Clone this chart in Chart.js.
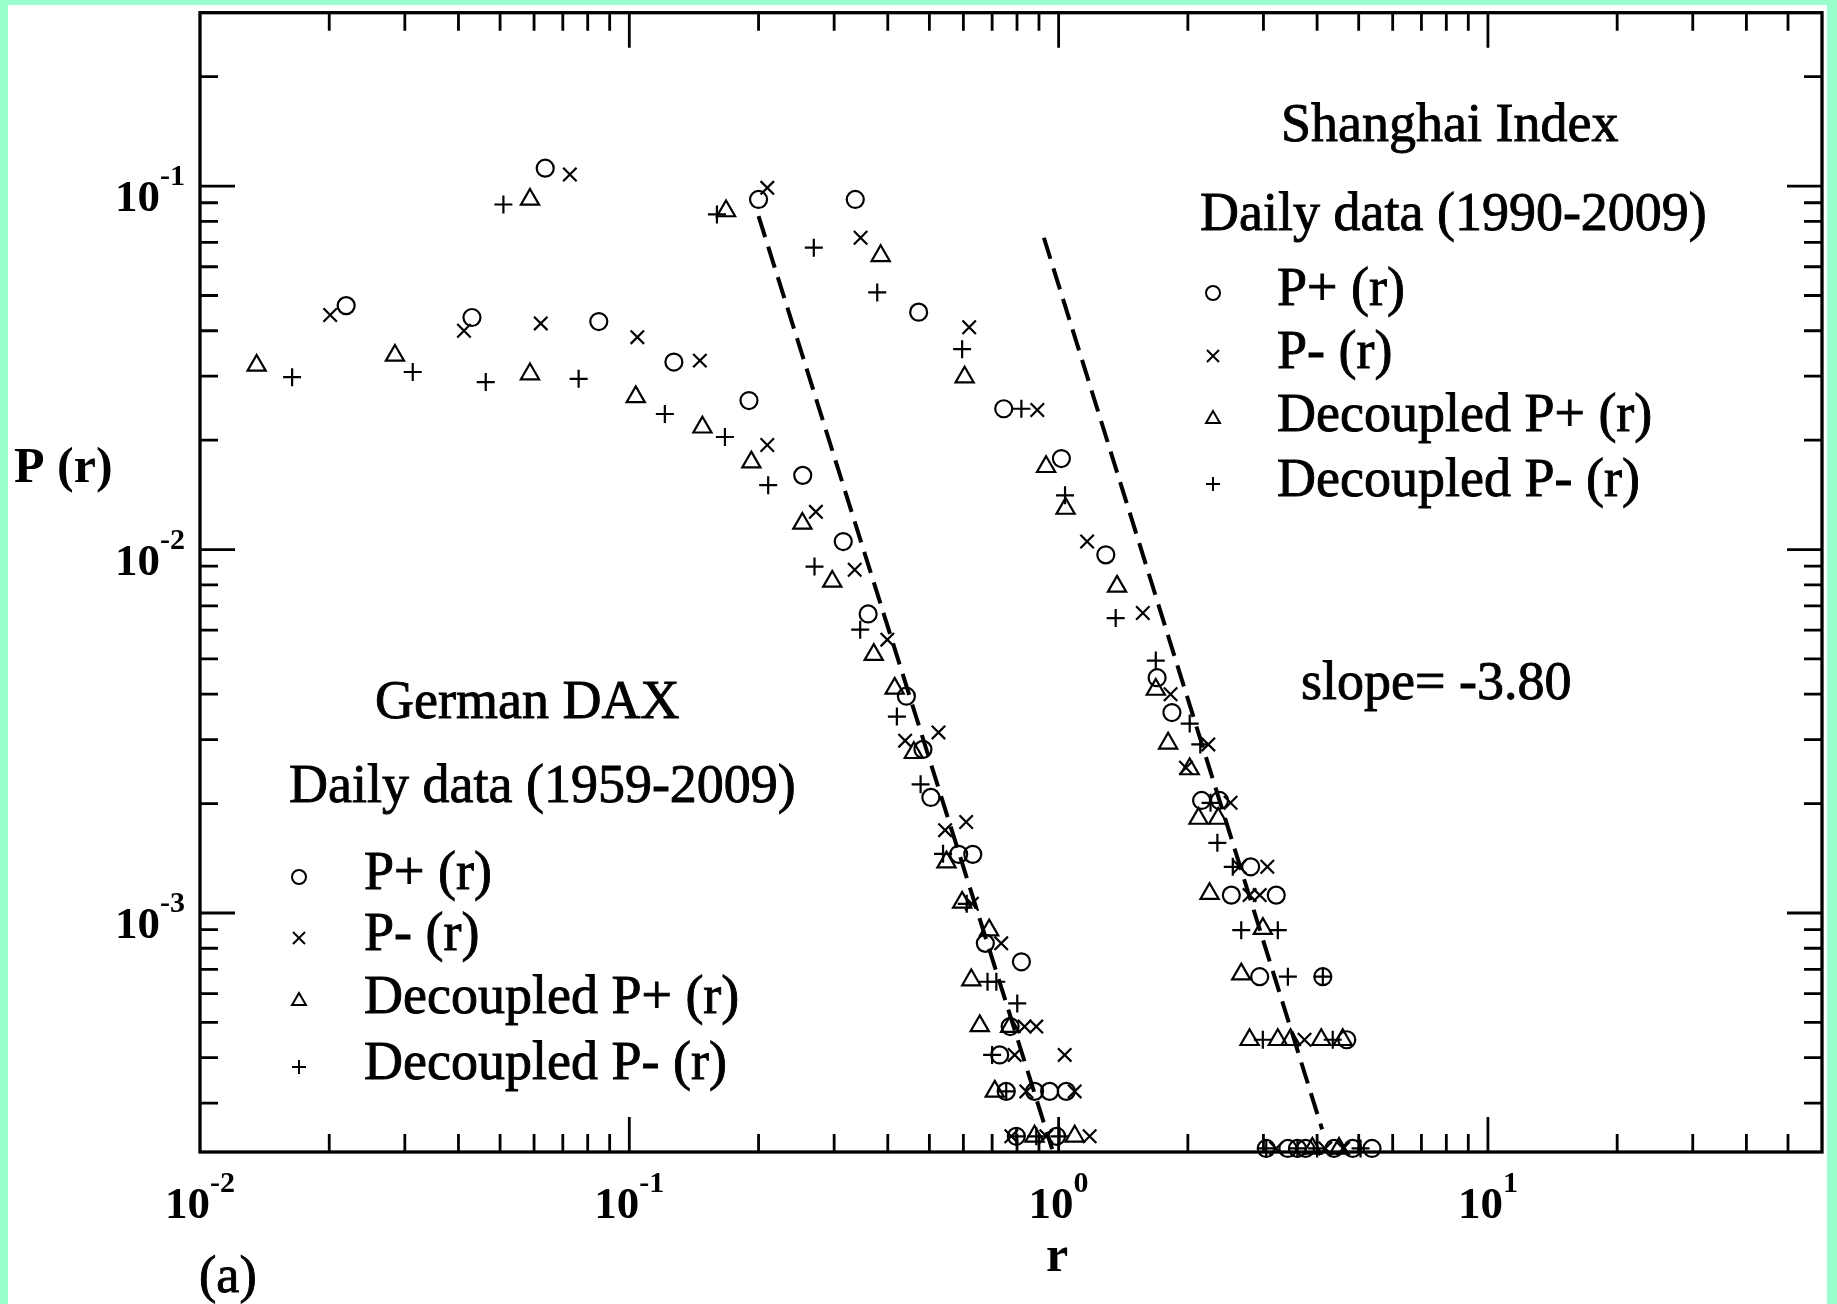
<!DOCTYPE html>
<html>
<head>
<meta charset="utf-8">
<script src="https://cdn.jsdelivr.net/npm/chart.js@4.4.1/dist/chart.umd.min.js"></script>
<style>
  html, body { margin: 0; padding: 0; background: #99ffcc; }
  canvas { display: block; }
</style>
</head>
<body>
<canvas id="grafico" width="1837" height="1304"></canvas>
<script>
// German DAX, daily data 1959-2009  [r, P(r)]
const daxPlus = [
  [0.0219, 0.0469], [0.043, 0.0435], [0.0849, 0.0424], [0.127, 0.0328], [0.190, 0.0257],
  [0.2535, 0.0160], [0.315, 0.01052], [0.360, 0.00665], [0.442, 0.00395], [0.483, 0.00282],
  [0.504, 0.00208], [0.585, 0.00145], [0.631, 0.00145], [0.675, 0.000825], [0.819, 0.000734],
  [0.771, 0.000487], [0.729, 0.000407], [0.755, 0.000323], [0.879, 0.000323], [0.953, 0.000323],
  [1.042, 0.000323], [0.797, 0.000243], [0.989, 0.000243]
];
const daxMinus = [
  [0.0201, 0.0442], [0.0412, 0.0400], [0.0622, 0.0419], [0.1044, 0.0384], [0.146, 0.0331],
  [0.2096, 0.0194], [0.272, 0.0127], [0.335, 0.0088], [0.399, 0.00565], [0.439, 0.00298],
  [0.525, 0.00314], [0.544, 0.00169], [0.609, 0.00178], [0.628, 0.00106], [0.735, 0.000825],
  [0.833, 0.000487], [0.887, 0.000487], [0.790, 0.000407], [1.033, 0.000407], [0.841, 0.000323],
  [1.09, 0.000323], [0.776, 0.000243], [0.936, 0.000243], [1.181, 0.000243]
];
const daxDecPlus = [
  [0.01355, 0.0321], [0.02845, 0.0342], [0.0587, 0.0304], [0.1035, 0.0263], [0.148, 0.0217],
  [0.1924, 0.0174], [0.253, 0.0118], [0.297, 0.00817], [0.371, 0.00514], [0.415, 0.00415],
  [0.460, 0.00276], [0.548, 0.00138], [0.596, 0.00107], [0.689, 0.000897], [0.626, 0.000654],
  [0.655, 0.000489], [0.771, 0.000487], [0.710, 0.000323], [0.879, 0.000243], [1.09, 0.000243]
];
const daxDecMinus = [
  [0.01639, 0.0298], [0.0313, 0.0308], [0.0463, 0.0289], [0.0762, 0.0295], [0.121, 0.0236],
  [0.167, 0.0204], [0.2106, 0.01504], [0.270, 0.00898], [0.345, 0.00602], [0.420, 0.00347],
  [0.477, 0.00226], [0.538, 0.001455], [0.611, 0.00106], [0.683, 0.000647], [0.716, 0.000647],
  [0.801, 0.000564], [0.700, 0.000407], [0.755, 0.000323], [0.797, 0.000243], [0.887, 0.000243],
  [1.005, 0.000243]
];

// Shanghai Index, daily data 1990-2009
const shPlus = [
  [0.0637, 0.112], [0.200, 0.0919], [0.336, 0.0919], [0.472, 0.0450], [0.745, 0.0244],
  [1.015, 0.0178], [1.288, 0.00967], [1.696, 0.00444], [1.836, 0.00356], [2.153, 0.00204],
  [2.370, 0.00204], [2.801, 0.00134], [2.525, 0.00112], [3.213, 0.00112], [2.94, 0.000668],
  [4.125, 0.000668], [4.69, 0.000448], [3.045, 0.000225], [3.42, 0.000225], [3.60, 0.000225],
  [3.76, 0.000225], [4.38, 0.000225], [4.84, 0.000225], [5.37, 0.000225]
];
const shMinus = [
  [0.0727, 0.1076], [0.2096, 0.0989], [0.3457, 0.0721], [0.619, 0.0409], [0.892, 0.0242],
  [1.165, 0.01052], [1.571, 0.00669], [1.823, 0.00400], [1.98, 0.00251], [2.232, 0.00291],
  [2.515, 0.00201], [2.639, 0.00134], [3.063, 0.00134], [2.785, 0.00112], [2.94, 0.00112],
  [3.739, 0.000448], [3.21, 0.000225], [4.18, 0.000225], [4.60, 0.000225]
];
const shDecPlus = [
  [0.0587, 0.0919], [0.168, 0.0854], [0.385, 0.0643], [0.604, 0.0298], [0.935, 0.0169],
  [1.038, 0.01297], [1.368, 0.00792], [1.684, 0.00412], [1.799, 0.00293], [2.02, 0.00249],
  [2.118, 0.00182], [2.353, 0.00182], [2.247, 0.00113], [2.99, 0.000906], [2.663, 0.000679],
  [2.785, 0.000448], [3.24, 0.000448], [3.47, 0.000448], [4.09, 0.000448], [4.59, 0.000448],
  [3.90, 0.000225], [4.50, 0.000225]
];
const shDecMinus = [
  [0.0509, 0.0890], [0.160, 0.0836], [0.269, 0.0677], [0.378, 0.0510], [0.596, 0.0356],
  [0.819, 0.0244], [1.035, 0.0141], [1.358, 0.00648], [1.684, 0.00495], [2.02, 0.00332],
  [2.138, 0.00291], [2.259, 0.00201], [2.343, 0.00156], [2.545, 0.00134], [2.663, 0.000897],
  [3.24, 0.000897], [3.42, 0.000668], [4.125, 0.000668], [2.99, 0.000448], [4.35, 0.000448],
  [3.045, 0.000225], [3.60, 0.000225], [4.00, 0.000225], [5.05, 0.000225]
];

// power law fits, slope -3.80
const fitDax = [[0.200, 0.0827], [0.966, 0.000224]];
const fitSh = [[0.924, 0.0721], [4.11, 0.000254]];

const xMin = 0.01, xMax = 60;
const yMin = 2.2e-4, yMax = 0.3;
const xDecadas = [-2, -1, 0, 1];
const yDecadas = [-1, -2, -3];

const legendaNomes = ['P+ (r)', 'P- (r)', 'Decoupled P+ (r)', 'Decoupled P- (r)'];
const simbolos = ['circle', 'crossRot', 'triangle', 'cross'];
const raios = { circle: 8.5, crossRot: 9.5, triangle: 10.5, cross: 9 };
const raiosLegenda = { circle: 7, crossRot: 8.5, triangle: 8, cross: 7 };

const serif = '"Liberation Serif", "Times New Roman", serif';

function pontos(lista) {
  return lista.map(p => ({ x: p[0], y: p[1] }));
}

function serie(label, lista, estilo) {
  return {
    label: label,
    data: pontos(lista),
    showLine: false,
    pointStyle: estilo,
    pointRadius: raios[estilo],
    pointBorderColor: '#000',
    pointBackgroundColor: 'rgba(0,0,0,0)',
    pointBorderWidth: 2.2,
    clip: false
  };
}

function reta(lista) {
  return {
    data: pontos(lista),
    showLine: true,
    borderColor: '#000',
    borderWidth: 4,
    borderDash: [22, 10],
    pointRadius: 0,
    fill: false,
    clip: false
  };
}

function marca(ctx, estilo, x, y) {
  ctx.save();
  ctx.strokeStyle = '#000';
  ctx.fillStyle = 'rgba(0,0,0,0)';
  ctx.lineWidth = 2;
  if (Chart.helpers && Chart.helpers.drawPoint) {
    Chart.helpers.drawPoint(ctx, { pointStyle: estilo, radius: raiosLegenda[estilo], rotation: 0, borderWidth: 2 }, x, y);
  } else {
    ctx.beginPath();
    ctx.arc(x, y, raiosLegenda[estilo], 0, Math.PI * 2);
    ctx.stroke();
  }
  ctx.restore();
}

// filled text with a thin outline, the print face is quite heavy
function texto(ctx, s, x, y) {
  ctx.fillText(s, x, y);
  ctx.strokeText(s, x, y);
}

// 10 with a raised exponent
function potencia(ctx, exp, x, base, alinha) {
  ctx.font = 'bold 45px ' + serif;
  const w1 = ctx.measureText('10').width;
  ctx.font = 'bold 30px ' + serif;
  const w2 = ctx.measureText(exp).width;
  let esq = alinha === 'center' ? x - (w1 + w2) / 2 : x - (w1 + w2);
  ctx.textAlign = 'left';
  ctx.textBaseline = 'alphabetic';
  ctx.font = 'bold 45px ' + serif;
  ctx.fillText('10', esq, base);
  ctx.font = 'bold 30px ' + serif;
  ctx.fillText(exp, esq + w1, base - 26);
}

const moldura = {
  id: 'moldura',
  beforeDraw(chart) {
    const ctx = chart.ctx;
    ctx.save();
    ctx.fillStyle = '#99ffcc';
    ctx.fillRect(0, 0, chart.width, chart.height);
    ctx.fillStyle = '#ffffff';
    ctx.fillRect(8, 5, chart.width - 18, chart.height - 5);
    ctx.restore();
  },
  beforeDatasetsDraw(chart) {
    const ctx = chart.ctx;
    const a = chart.chartArea;
    const sx = chart.scales.x, sy = chart.scales.y;
    ctx.save();
    ctx.strokeStyle = '#000';
    ctx.fillStyle = '#000';

    // inward ticks on all four sides
    ctx.lineWidth = 2.8;
    ctx.beginPath();
    for (let p = -3; p <= 2; p++) {
      for (let m = 1; m <= 9; m++) {
        const v = m * Math.pow(10, p);
        const len = m === 1 ? 35 : 18;
        if (v > xMin * 1.001 && v < xMax * 0.999) {
          const px = sx.getPixelForValue(v);
          ctx.moveTo(px, a.bottom); ctx.lineTo(px, a.bottom - len);
          ctx.moveTo(px, a.top); ctx.lineTo(px, a.top + len);
        }
      }
    }
    for (let p = -5; p <= 0; p++) {
      for (let m = 1; m <= 9; m++) {
        const v = m * Math.pow(10, p);
        const len = m === 1 ? 35 : 18;
        if (v > yMin * 1.001 && v < yMax * 0.999) {
          const py = sy.getPixelForValue(v);
          ctx.moveTo(a.left, py); ctx.lineTo(a.left + len, py);
          ctx.moveTo(a.right, py); ctx.lineTo(a.right - len, py);
        }
      }
    }
    ctx.stroke();

    ctx.lineWidth = 3.3;
    ctx.strokeRect(a.left, a.top, a.right - a.left, a.bottom - a.top);

    // tick labels
    xDecadas.forEach(p => {
      potencia(ctx, String(p), sx.getPixelForValue(Math.pow(10, p)), a.bottom + 66, 'center');
    });
    yDecadas.forEach(p => {
      const py = sy.getPixelForValue(Math.pow(10, p));
      potencia(ctx, String(p), a.left - 15, py + 25, 'right');
    });

    // axis titles
    ctx.font = 'bold 50px ' + serif;
    ctx.textAlign = 'left';
    ctx.fillText('P (r)', 14, 482);
    ctx.textAlign = 'center';
    ctx.fillText('r', 1057, 1271);
    ctx.lineWidth = 0.9;
    ctx.font = '52px ' + serif;
    ctx.textAlign = 'left';
    texto(ctx, '(a)', 199, 1292);
    ctx.restore();
  },
  afterDatasetsDraw(chart) {
    const ctx = chart.ctx;
    ctx.save();
    ctx.fillStyle = '#000';
    ctx.strokeStyle = '#000';
    ctx.lineWidth = 0.9;
    ctx.textAlign = 'left';
    ctx.textBaseline = 'alphabetic';
    ctx.font = '54px ' + serif;

    texto(ctx, 'Shanghai Index', 1281, 141);
    texto(ctx, 'Daily data (1990-2009)', 1200, 230);
    texto(ctx, 'German DAX', 375, 718);
    texto(ctx, 'Daily data (1959-2009)', 289, 802);
    texto(ctx, 'slope= -3.80', 1301, 699);

    // two hand placed legends, same symbols
    const shY = [293, 356, 419, 484];
    const daxY = [877, 938, 1001, 1067];
    for (let i = 0; i < 4; i++) {
      marca(ctx, simbolos[i], 1213, shY[i]);
      marca(ctx, simbolos[i], 299, daxY[i]);
      ctx.font = '54px ' + serif;
      ctx.lineWidth = 0.9;
      texto(ctx, legendaNomes[i], 1277, shY[i] + 12);
      texto(ctx, legendaNomes[i], 364, daxY[i] + 12);
    }
    ctx.restore();
  }
};

const config = {
  type: 'scatter',
  data: {
    datasets: [
      reta(fitDax),
      reta(fitSh),
      serie('DAX P+', daxPlus, 'circle'),
      serie('DAX P-', daxMinus, 'crossRot'),
      serie('DAX decoupled P+', daxDecPlus, 'triangle'),
      serie('DAX decoupled P-', daxDecMinus, 'cross'),
      serie('Shanghai P+', shPlus, 'circle'),
      serie('Shanghai P-', shMinus, 'crossRot'),
      serie('Shanghai decoupled P+', shDecPlus, 'triangle'),
      serie('Shanghai decoupled P-', shDecMinus, 'cross')
    ]
  },
  options: {
    responsive: false,
    animation: false,
    events: [],
    layout: { padding: { left: 200, right: 15, top: 10, bottom: 152 } },
    plugins: {
      legend: { display: false },
      tooltip: { enabled: false }
    },
    scales: {
      x: { type: 'logarithmic', min: xMin, max: xMax, display: false },
      y: { type: 'logarithmic', min: yMin, max: yMax, display: false }
    }
  },
  plugins: [moldura]
};

const myChart = new Chart(document.getElementById('grafico'), config);
</script>
</body>
</html>
